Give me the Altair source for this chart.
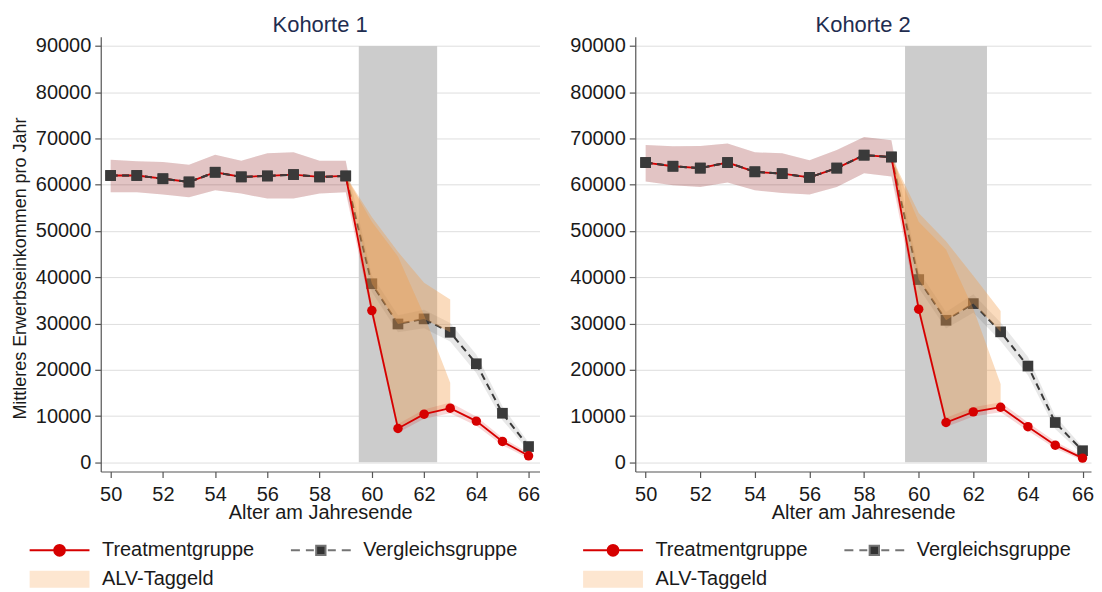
import altair as alt
import pandas as pd

# ---------------- data ----------------
ages = list(range(50, 67))
groups = ["Treatmentgruppe", "Vergleichsgruppe", "ALV-Taggeld"]
panel_titles = ["Kohorte 1", "Kohorte 2"]
x_title = "Alter am Jahresende"
y_title = "Mittleres Erwerbseinkommen pro Jahr"
x_ticks = list(range(50, 67, 2))
y_ticks = list(range(0, 90001, 10000))

shade_from = [59.5]
shade_to = [62.5]
shade_lo = [0]
shade_hi = [90000]

# Kohorte 1
k1_treat = [62000, 62000, 61300, 60600, 62700, 61700, 61900, 62200, 61700, 61900,
            32800, 7300, 10400, 11700, 8900, 4500, 1400]
k1_treat_lo = [58400, 58400, 57900, 57300, 58800, 58100, 57000, 57000, 58100, 58400,
               31600, 6400, 9400, 10600, 7900, 3700, 800]
k1_treat_hi = [65400, 65100, 64900, 64300, 66500, 65200, 66800, 67000, 65200, 65200,
               34000, 8300, 11400, 12900, 9900, 5300, 2000]
k1_ctrl = [62000, 62000, 61300, 60600, 62700, 61700, 61900, 62200, 61700, 61900,
           38600, 29900, 31000, 28100, 21300, 10600, 3400]
k1_ctrl_lo = [58400, 58400, 57900, 57300, 58800, 58100, 57000, 57000, 58100, 58400,
              36800, 28100, 29000, 26100, 19300, 9100, 2500]
k1_ctrl_hi = [65400, 65100, 64900, 64300, 66500, 65200, 66800, 67000, 65200, 65200,
              40400, 31800, 33000, 30100, 23300, 12100, 4300]

# Kohorte 2
k2_treat = [64800, 64000, 63600, 64800, 62800, 62400, 61600, 63600, 66400, 66000,
            33100, 8600, 10900, 11900, 7700, 3700, 900]
k2_treat_lo = [60700, 59900, 59500, 60500, 58800, 58200, 57900, 59500, 62500, 61800,
               32000, 7600, 9900, 10800, 6800, 3000, 400]
k2_treat_hi = [68600, 68300, 68400, 68900, 67000, 66800, 65300, 67500, 70300, 69600,
               34200, 9600, 11900, 13000, 8600, 4500, 1400]
k2_ctrl = [64800, 64000, 63600, 64800, 62800, 62400, 61600, 63600, 66400, 66000,
           39500, 30700, 34300, 28200, 20800, 8600, 2500]
k2_ctrl_lo = [60700, 59900, 59500, 60500, 58800, 58200, 57900, 59500, 62500, 61800,
              37700, 28900, 32300, 26200, 18800, 7200, 1700]
k2_ctrl_hi = [68600, 68300, 68400, 68900, 67000, 66800, 65300, 67500, 70300, 69600,
              41300, 32500, 36300, 30200, 22800, 10000, 3300]

# ALV-Taggeld (income + unemployment benefit), ages 59-63
alv_ages = [59, 60, 61, 62, 63]
k1_alv_ctrl_hi = [61900, 53000, 45500, 38800, 35200]
k1_alv_treat_hi = [61900, 52000, 44500, 31800, 17200]
k2_alv_ctrl_hi = [66000, 53900, 47800, 40300, 32700]
k2_alv_treat_hi = [66000, 52000, 46000, 33200, 16900]

# ---------------- styles ----------------
RED = "#d60000"
DARK = "#3a3a3a"
LEG_DASH = "#747474"
ORANGE = "#f09a48"
ALV_LEGEND = "#fde6d0"
SHADE = "#cccccc"
FONT = "Liberation Sans"
TXT = "#1a1a1a"

# legend symbol paths (1 unit = 9 px with symbolSize 324; drawn to the right of the anchor)
shape_paths = [
    "M-1.111,0H5.556M2.816,0A0.594,0.594,0,1,1,1.628,0A0.594,0.594,0,1,1,2.816,0Z",
    "M-1.111,0H-0.111M0.556,0H1.444M3,0H3.889M4.556,0H5.556"
    "M1.702,-0.52H2.742V0.52H1.702Z",
    "M-1.111,-0.944H5.556V0.944H-1.111Z",
]


def pick(vals):
    """Vega expression choosing a value per legend entry."""
    q = ["'%s'" % v for v in vals]
    return "datum.value === '%s' ? %s : datum.value === '%s' ? %s : %s" % (
        groups[0], q[0], groups[1], q[1], q[2])


def panel(title, treat, t_lo, t_hi, ctrl, c_lo, c_hi, alv_c_hi, alv_t_hi,
          width, x_max, show_ytitle, legend_x):
    xscale = alt.Scale(domain=[49.62, x_max], nice=False, zero=False)
    yscale = alt.Scale(domain=[-2000, 92000], nice=False, zero=False)
    xaxis = alt.Axis(values=x_ticks, format="d", grid=False, tickSize=6,
                     labelPadding=7, labelFontSize=20, title=x_title,
                     titleFontSize=20, titleBaseline="alphabetic", titleY=47.5)
    yaxis = alt.Axis(values=y_ticks, format="d", grid=True, tickSize=6,
                     labelPadding=4, labelFontSize=20,
                     title=y_title if show_ytitle else None,
                     titleFontSize=18, titleBaseline="alphabetic", titleX=-75,
                     titleY=232)

    def X(f):
        return alt.X(f, type="quantitative", scale=xscale, axis=xaxis)

    def Y(f):
        return alt.Y(f, type="quantitative", scale=yscale, axis=yaxis)

    tdf = pd.DataFrame({"age": ages, "val": treat, "lo": t_lo, "hi": t_hi})
    cdf = pd.DataFrame({"age": ages, "val": ctrl, "lo": c_lo, "hi": c_hi})
    cmap = dict(zip(ages, ctrl))
    tmap = dict(zip(ages, treat))
    alv_c = pd.DataFrame({"age": alv_ages, "lo": [cmap[a] for a in alv_ages], "hi": alv_c_hi})
    alv_t = pd.DataFrame({"age": alv_ages, "lo": [tmap[a] for a in alv_ages], "hi": alv_t_hi})
    sdf = pd.DataFrame({"a": shade_from, "b": shade_to, "lo": shade_lo, "hi": shade_hi})
    ldf = pd.DataFrame({"grp": groups, "age": [ages[0]] * 3, "val": [treat[0]] * 3})

    shade = alt.Chart(sdf).mark_rect(color=SHADE).encode(
        x=X("a"), x2="b", y=Y("lo"), y2="hi")
    t_band = alt.Chart(tdf).mark_area(color=RED, opacity=0.16).encode(
        x=X("age"), y=Y("lo"), y2="hi")
    c_band = alt.Chart(cdf).mark_area(color="#505050", opacity=0.13).encode(
        x=X("age"), y=Y("lo"), y2="hi")
    c_line = alt.Chart(cdf).mark_line(color=DARK, strokeWidth=2, strokeDash=[7, 4.5]).encode(
        x=X("age"), y=Y("val"))
    c_pts = alt.Chart(cdf).mark_square(color=DARK, size=115, opacity=1).encode(
        x=X("age"), y=Y("val"))
    alv1 = alt.Chart(alv_c).mark_area(color=ORANGE, opacity=0.36).encode(
        x=X("age"), y=Y("lo"), y2="hi")
    alv2 = alt.Chart(alv_t).mark_area(color=ORANGE, opacity=0.36).encode(
        x=X("age"), y=Y("lo"), y2="hi")
    t_line = alt.Chart(tdf).mark_line(color=RED, strokeWidth=1.8).encode(
        x=X("age"), y=Y("val"))
    t_pts = alt.Chart(tdf).mark_circle(color=RED, size=90, opacity=1).encode(
        x=X("age"), y=Y("val"))
    c_line_pre = alt.Chart(cdf).transform_filter("datum.age <= 59").mark_line(
        color=DARK, strokeWidth=2, strokeDash=[7, 4.5]).encode(x=X("age"), y=Y("val"))
    c_pts_pre = alt.Chart(cdf).transform_filter("datum.age <= 59").mark_square(
        color=DARK, size=115, opacity=1).encode(x=X("age"), y=Y("val"))

    legend = alt.Legend(
        title=None, orient="none", legendX=legend_x, legendY=505,
        values=groups, columns=2, direction="horizontal",
        symbolSize=324, symbolStrokeWidth=2, symbolOpacity=1,
        symbolType=alt.ExprRef(expr=pick(shape_paths)),
        symbolStrokeColor=alt.ExprRef(expr=pick([RED, LEG_DASH, "transparent"])),
        labelFontSize=20, labelFont=FONT, labelColor=TXT,
        labelOffset=52.5, columnPadding=32, rowPadding=6,
        padding=0, labelLimit=400)
    leg = alt.Chart(ldf).mark_point(filled=True, opacity=0).encode(
        x=X("age"), y=Y("val"),
        fill=alt.Fill("grp:N", scale=alt.Scale(domain=groups, range=[RED, "#333333", ALV_LEGEND]),
                      legend=legend),
    )

    return alt.layer(
        shade, t_band, c_band, c_line, c_pts, alv1, alv2, t_line, t_pts,
        c_line_pre, c_pts_pre, leg
    ).properties(
        width=width, height=436,
        title=alt.TitleParams(title, fontSize=22, font=FONT, color="#1f2d50",
                              fontWeight="normal", anchor="middle", offset=-18,
                              baseline="alphabetic"),
    )


p1 = panel(panel_titles[0], k1_treat, k1_treat_lo, k1_treat_hi, k1_ctrl, k1_ctrl_lo,
           k1_ctrl_hi, k1_alv_ctrl_hi, k1_alv_treat_hi, 440, 66.42, True, -71.3)
p2 = panel(panel_titles[1], k2_treat, k2_treat_lo, k2_treat_hi, k2_ctrl, k2_ctrl_lo,
           k2_ctrl_hi, k2_alv_ctrl_hi, k2_alv_treat_hi, 457, 66.31, False, -52.3)

chart = alt.hconcat(p1, p2, spacing=29).resolve_scale(
    x="independent", y="independent", fill="independent"
).properties(
    padding={"left": 4, "top": 5, "right": 0, "bottom": 0}
).configure(font=FONT).configure_view(stroke=None).configure_axis(
    labelFont=FONT, titleFont=FONT, labelColor=TXT, titleColor=TXT,
    domainColor="#555555", tickColor="#555555", gridColor="#dedede",
    titleFontWeight="normal", domainWidth=1.2, tickWidth=1.2
)

chart.save("out.html", embed_options={"renderer": "svg", "actions": False})
